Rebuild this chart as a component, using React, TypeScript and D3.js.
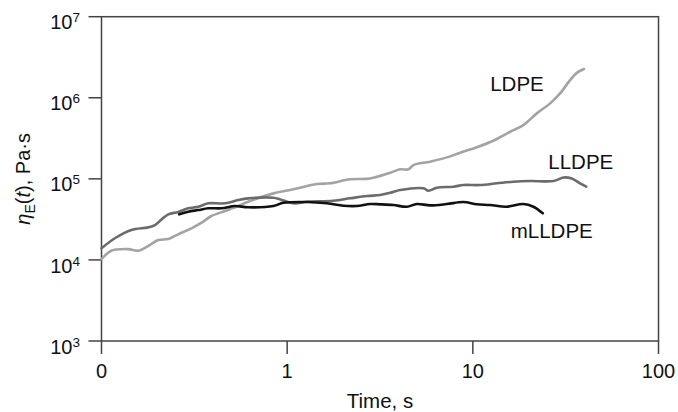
import React from "react";
import * as d3 from "d3";

const xTicks = [0.1, 1, 10, 100];
const xTickLabels = ["0", "1", "10", "100"];
const yTicks = [1e3, 1e4, 1e5, 1e6, 1e7];
const yTickExponents = ["3", "4", "5", "6", "7"];

const ldpeT = [0.1, 0.113, 0.139, 0.158, 0.178, 0.202, 0.229, 0.259, 0.305, 0.346, 0.391, 0.462, 0.545, 0.616, 0.844, 1.08, 1.445, 1.7, 2.18, 2.8, 3.59, 4.06, 4.5, 4.79, 5.89, 7.24, 8.55, 10.5, 12.9, 15.9, 18.7, 22.1, 26.1, 29.5, 33.4, 36.3, 39.7];
const ldpeEta = [1.02e4, 1.3e4, 1.36e4, 1.3e4, 1.48e4, 1.76e4, 1.81e4, 2.07e4, 2.45e4, 2.88e4, 3.48e4, 4.01e4, 4.62e4, 5.22e4, 6.62e4, 7.43e4, 8.63e4, 8.81e4, 9.87e4, 1.01e5, 1.19e5, 1.31e5, 1.31e5, 1.48e5, 1.63e5, 1.84e5, 2.1e5, 2.45e5, 2.95e5, 3.81e5, 4.6e5, 6.42e5, 8.53e5, 1.13e6, 1.65e6, 2.03e6, 2.26e6];

const lldpeT = [0.1, 0.118, 0.145, 0.178, 0.194, 0.211, 0.229, 0.259, 0.293, 0.332, 0.376, 0.462, 0.545, 0.616, 0.844, 0.917, 1.08, 1.28, 1.77, 2.18, 2.69, 3.17, 3.59, 4.06, 5.42, 5.77, 6.4, 7.86, 8.9, 10.9, 13.5, 16.5, 20.4, 27.2, 30.8, 34.1, 37.8, 40.8];
const lldpeEta = [1.39e4, 1.85e4, 2.34e4, 2.52e4, 2.69e4, 3.17e4, 3.65e4, 3.9e4, 4.33e4, 4.53e4, 4.99e4, 4.99e4, 5.48e4, 5.75e4, 5.85e4, 5.58e4, 4.99e4, 5.22e4, 5.37e4, 5.75e4, 6.14e4, 6.31e4, 6.74e4, 7.28e4, 7.64e4, 7.13e4, 7.76e4, 8.0e4, 8.39e4, 8.39e4, 8.81e4, 9.21e4, 9.4e4, 9.4e4, 1.04e5, 1.01e5, 8.81e4, 8.0e4];

const mlldpeT = [0.262, 0.293, 0.332, 0.376, 0.443, 0.523, 0.616, 0.844, 0.955, 1.28, 1.64, 2.01, 2.37, 2.8, 3.17, 3.74, 4.41, 4.99, 5.89, 7.24, 8.9, 10.5, 12.4, 15.2, 18.7, 21.2, 23.8];
const mlldpeEta = [3.65e4, 3.93e4, 4.12e4, 4.33e4, 4.33e4, 4.62e4, 4.46e4, 4.62e4, 5.07e4, 5.18e4, 4.99e4, 4.66e4, 4.62e4, 4.89e4, 4.85e4, 4.75e4, 4.53e4, 4.89e4, 4.71e4, 4.89e4, 5.18e4, 4.85e4, 4.75e4, 4.53e4, 4.89e4, 4.53e4, 3.76e4];

const seriesNames = ["LDPE", "LLDPE", "mLLDPE"];
// label anchor positions (data coordinates, left/baseline of text)
const labelT = [12.4, 25.5, 16.0];
const labelEta = [1.21e6, 1.32e5, 1.86e4];

const W = 678;
const H = 412;
const M = { left: 101.5, right: 658.5, top: 16.7, bottom: 341 };
const FONT = "'Liberation Sans', Arial, Helvetica, sans-serif";
const AXIS = "#444";

export default function App() {
  const x = d3.scaleLog().domain([0.1, 100]).range([M.left, M.right]);
  const y = d3.scaleLog().domain([1e3, 1e7]).range([M.bottom, M.top]);
  const line = d3
    .line<[number, number]>()
    .x((d) => x(d[0]))
    .y((d) => y(d[1]))
    .curve(d3.curveCatmullRom.alpha(0.5));

  const series = [
    { name: seriesNames[0], t: ldpeT, v: ldpeEta, color: "#a3a3a3" },
    { name: seriesNames[1], t: lldpeT, v: lldpeEta, color: "#6b6b6b" },
    { name: seriesNames[2], t: mlldpeT, v: mlldpeEta, color: "#111" },
  ];

  return (
    <svg
      width={W}
      height={H}
      style={{ position: "absolute", left: 0, top: 0, background: "#fff" }}
      fontFamily={FONT}
    >
      <rect x={0} y={0} width={W} height={H} fill="#fff" />
      {/* frame */}
      <rect
        x={M.left}
        y={M.top}
        width={M.right - M.left}
        height={M.bottom - M.top}
        fill="none"
        stroke={AXIS}
        strokeWidth={1.5}
      />
      {/* y ticks */}
      {yTicks.map((t, i) => (
        <g key={"y" + i}>
          <line x1={M.left - 13} x2={M.left} y1={y(t)} y2={y(t)} stroke={AXIS} strokeWidth={1.5} />
          <text x={80} y={y(t) + 12.6} textAnchor="end" fontSize={20} fill="#111">
            10
            <tspan fontSize={13.5} dy={-7}>
              {yTickExponents[i]}
            </tspan>
          </text>
        </g>
      ))}
      {/* x ticks */}
      {xTicks.map((t, i) => (
        <g key={"x" + i}>
          <line x1={x(t)} x2={x(t)} y1={M.bottom} y2={M.bottom + 13} stroke={AXIS} strokeWidth={1.5} />
          <text x={x(t)} y={377.5} textAnchor="middle" fontSize={20} fill="#111">
            {xTickLabels[i]}
          </text>
        </g>
      ))}
      {/* axis titles */}
      <text x={(M.left + M.right) / 2} y={408} textAnchor="middle" fontSize={20.5} fill="#111">
        Time, s
      </text>
      <text transform={`translate(30,${(M.top + M.bottom) / 2}) rotate(-90)`} textAnchor="middle" fontSize={20} fill="#111">
        <tspan fontStyle="italic">η</tspan>
        <tspan fontSize={14} dy={5}>E</tspan>
        <tspan dy={-5}>(</tspan>
        <tspan fontStyle="italic">t</tspan>
        <tspan>), Pa·s</tspan>
      </text>
      {/* curves */}
      {series.map((s) => (
        <path
          key={s.name}
          d={line(s.t.map((t, i) => [t, s.v[i]] as [number, number])) || ""}
          fill="none"
          stroke={s.color}
          strokeWidth={2.6}
          strokeLinejoin="round"
          strokeLinecap="round"
        />
      ))}
      {/* labels */}
      {seriesNames.map((n, i) => (
        <text key={n} x={x(labelT[i])} y={y(labelEta[i])} fontSize={20.5} fill="#111">
          {n}
        </text>
      ))}
    </svg>
  );
}
